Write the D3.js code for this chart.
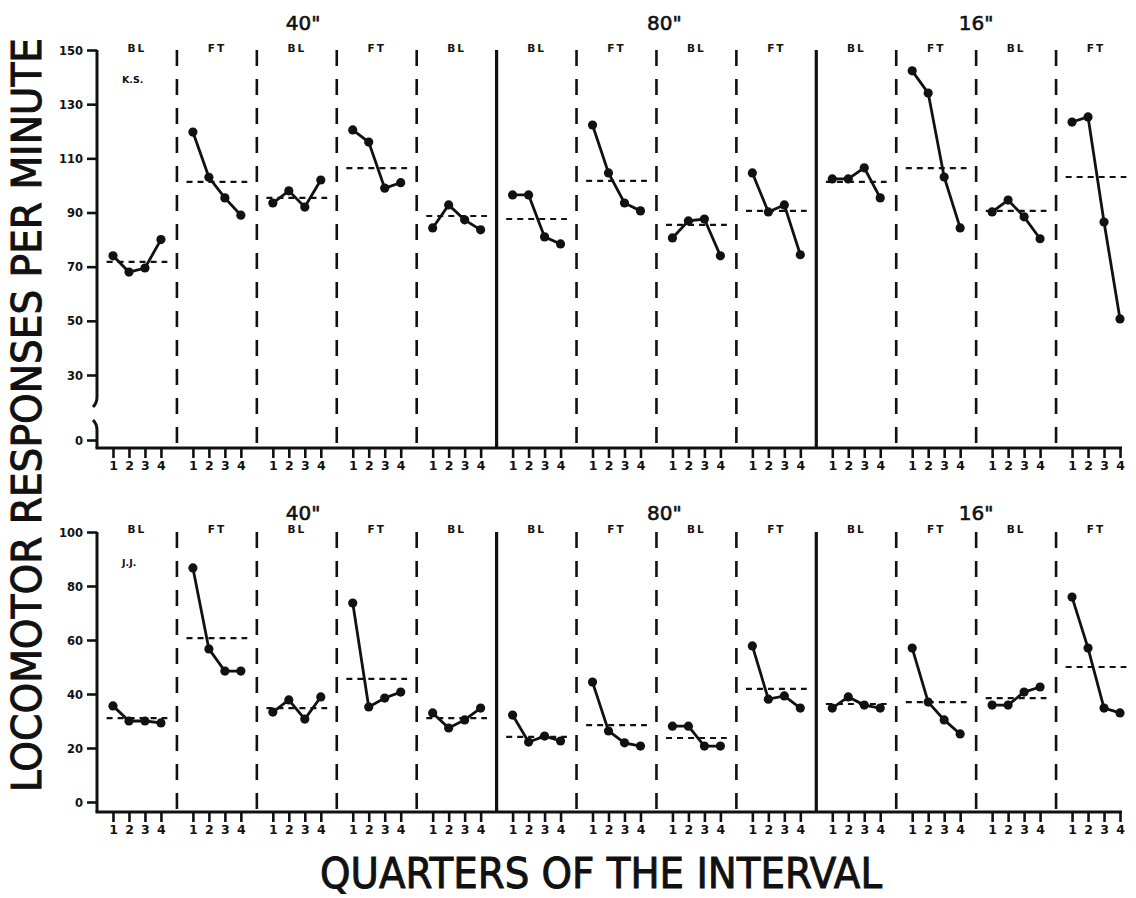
<!DOCTYPE html>
<html><head><meta charset="utf-8">
<script src="https://cdn.jsdelivr.net/npm/d3@7"></script>
<style>
html,body{margin:0;padding:0;background:#fff;}
svg{display:block;}
text{fill:#111;}
</style></head>
<body>
<svg id="chart" width="1136" height="898"></svg>
<script>
// ---------------- DATA ----------------
const phases = ["BL","FT","BL","FT","BL","BL","FT","BL","FT","BL","FT","BL","FT"];
const quarters = [1,2,3,4];
const groupLabels = ['40"','80"','16"'];
const subjects = ["K.S.","J.J."];
const topTicks = [0,30,50,70,90,110,130,150];
const bottomTicks = [0,20,40,60,80,100];
const solidDividers = [5,9]; // section indices preceded by a solid line

// K.S. responses per minute, per quarter, for each of the 13 sessions
const topValues = [
  [74,68,69.5,80],
  [119.7,103,95.4,89],
  [93.5,98,92,102],
  [120.5,116,99,101],
  [84.3,92.8,87.3,83.6],
  [96.5,96.5,81,78.4],
  [122.3,104.6,93.5,90.6],
  [80.6,86.9,87.6,74],
  [104.6,90.2,92.8,74.4],
  [102.4,102.4,106.5,95.4],
  [142.3,134.1,103.1,84.3],
  [90.2,94.6,88.4,80.3],
  [123.4,125.3,86.5,50.7]
];
const topMeans = [71.8,101.3,95.4,106.4,88.7,87.6,101.7,85.4,90.6,101.3,106.4,90.6,103.1];

// J.J. responses per minute
const bottomValues = [
  [35.6,30,30,29.3],
  [86.7,56.7,48.5,48.5],
  [33.3,37.8,30.7,38.9],
  [73.7,35.2,38.5,40.7],
  [33,27.4,30.4,34.8],
  [32.2,22.2,24.4,22.6],
  [44.4,26.3,21.9,20.7],
  [28.1,28.1,20.7,20.7],
  [57.8,38.1,39.3,34.8],
  [34.8,38.9,35.9,34.8],
  [57,37,30.4,25.2],
  [35.9,35.9,40.7,42.6],
  [75.9,57,34.8,33]
];
const bottomMeans = [31.1,60.7,34.8,45.6,31.1,24.1,28.5,23.7,41.9,36.3,37,38.5,50];

// ---------------- LAYOUT ----------------
const svg = d3.select("#chart");
const ink = "#111";
const nSec = phases.length;
const x = d3.scaleLinear().domain([0, (nSec-1)*5 + 4]).range([97, 1120]);
const xEnd = 1122;
const groupPos = [12.9, 35.5, 55.0];

const panels = [
  {values: topValues, means: topMeans, ticks: topTicks, subject: subjects[0],
   y: d3.scaleLinear().domain([0,30,150]).range([440,375,50]),
   top: 50, axisY: 448, labelY: 52, groupY: 30, subjY: 83, breakAxis: true},
  {values: bottomValues, means: bottomMeans, ticks: bottomTicks, subject: subjects[1],
   y: d3.scaleLinear().domain([0,100]).range([802,532]),
   top: 532, axisY: 812, labelY: 533, groupY: 520, subjY: 566, breakAxis: false}
];

const font = "'DejaVu Sans', Verdana, sans-serif";

panels.forEach(p => {
  const g = svg.append("g");
  const y = p.y;

  // section dividers
  for (let k = 1; k < nSec; k++) {
    const solid = solidDividers.includes(k);
    g.append("line")
      .attr("x1", x(k*5)).attr("x2", x(k*5))
      .attr("y1", p.top).attr("y2", p.axisY)
      .attr("stroke", ink)
      .attr("stroke-width", solid ? 3.2 : 2.6)
      .attr("stroke-dasharray", solid ? null : "16,13");
  }

  // y axis
  const yAxis = d3.axisLeft(y).tickValues(p.ticks).tickSize(10).tickPadding(4)
    .tickFormat(d3.format("d"));
  const ya = g.append("g").attr("transform", `translate(${x(0)},0)`).call(yAxis);
  ya.select(".domain").remove();
  ya.selectAll(".tick line").attr("stroke", ink).attr("stroke-width", 2.6);
  ya.selectAll(".tick text").attr("font-family", font).attr("font-weight", "bold")
    .attr("font-size", 11.5).attr("fill", ink).attr("dy", "0.35em");

  if (p.breakAxis) {
    g.append("path")
      .attr("d", `M${x(0)},${p.top} L${x(0)},${y(30)+22} Q${x(0)},${y(30)+28} ${x(0)-4},${y(30)+32}`)
      .attr("fill","none").attr("stroke",ink).attr("stroke-width",3);
    g.append("path")
      .attr("d", `M${x(0)-4},${y(0)-20} Q${x(0)},${y(0)-16} ${x(0)},${y(0)-10} L${x(0)},${p.axisY}`)
      .attr("fill","none").attr("stroke",ink).attr("stroke-width",3);
  } else {
    g.append("line").attr("x1", x(0)).attr("x2", x(0))
      .attr("y1", p.top).attr("y2", p.axisY)
      .attr("stroke", ink).attr("stroke-width", 3);
  }

  // x axis
  const xTickVals = [];
  for (let s = 0; s < nSec; s++) quarters.forEach(q => xTickVals.push(s*5 + q));
  const xAxis = d3.axisBottom(x).tickValues(xTickVals).tickSize(10).tickPadding(3)
    .tickFormat(d => quarters[(d % 5) - 1]);
  const xa = g.append("g").attr("transform", `translate(0,${p.axisY})`).call(xAxis);
  xa.select(".domain").remove();
  xa.selectAll(".tick line").attr("stroke", ink).attr("stroke-width", 2.6);
  xa.selectAll(".tick text").attr("font-family", font).attr("font-weight", "bold")
    .attr("font-size", 12.5).attr("fill", ink);
  g.append("line").attr("x1", x(0) - 1.5).attr("x2", xEnd)
    .attr("y1", p.axisY).attr("y2", p.axisY)
    .attr("stroke", ink).attr("stroke-width", 3.2);

  // phase labels
  phases.forEach((ph, s) => {
    g.append("text").attr("x", x(s*5 + 2.5)).attr("y", p.labelY)
      .attr("text-anchor","middle").attr("font-family", font).attr("font-weight","bold")
      .attr("font-size", 10.5).attr("letter-spacing", 2).text(ph);
  });

  // group labels
  groupLabels.forEach((lab, i) => {
    g.append("text").attr("x", x(groupPos[i])).attr("y", p.groupY)
      .attr("text-anchor","middle").attr("font-family", font)
      .attr("font-size", 20).attr("stroke", ink).attr("stroke-width", 0.6).text(lab);
  });

  // subject
  g.append("text").attr("x", 122).attr("y", p.subjY)
    .attr("font-family", font).attr("font-weight","bold").attr("font-size", 9.5)
    .text(p.subject);

  // mean lines
  p.means.forEach((m, s) => {
    g.append("line").attr("x1", x(s*5 + 0.6)).attr("x2", x(s*5 + 4.4))
      .attr("y1", y(m)).attr("y2", y(m))
      .attr("stroke", ink).attr("stroke-width", 2.2).attr("stroke-dasharray", "6,5");
  });

  // data lines & points
  const line = d3.line().x(d => x(d.s*5 + d.q)).y(d => y(d.v));
  p.values.forEach((vals, s) => {
    const pts = vals.map((v, i) => ({s, q: quarters[i], v}));
    g.append("path").datum(pts).attr("d", line)
      .attr("fill","none").attr("stroke",ink).attr("stroke-width",2.8);
    g.selectAll(null).data(pts).enter().append("circle")
      .attr("cx", d => x(d.s*5 + d.q)).attr("cy", d => y(d.v)).attr("r", 4.6)
      .attr("fill", ink);
  });
});

// axis titles
svg.append("text")
  .attr("transform", "translate(41,415) rotate(-90)")
  .attr("text-anchor","middle").attr("font-family", font).attr("font-size", 40)
  .attr("stroke", ink).attr("stroke-width", 1)
  .attr("textLength", 754).attr("lengthAdjust","spacingAndGlyphs")
  .text("LOCOMOTOR RESPONSES PER MINUTE");

svg.append("text")
  .attr("x", 601).attr("y", 888)
  .attr("text-anchor","middle").attr("font-family", font).attr("font-size", 43)
  .attr("stroke", ink).attr("stroke-width", 1)
  .attr("textLength", 562).attr("lengthAdjust","spacingAndGlyphs")
  .text("QUARTERS OF THE INTERVAL");
</script>
</body></html>
